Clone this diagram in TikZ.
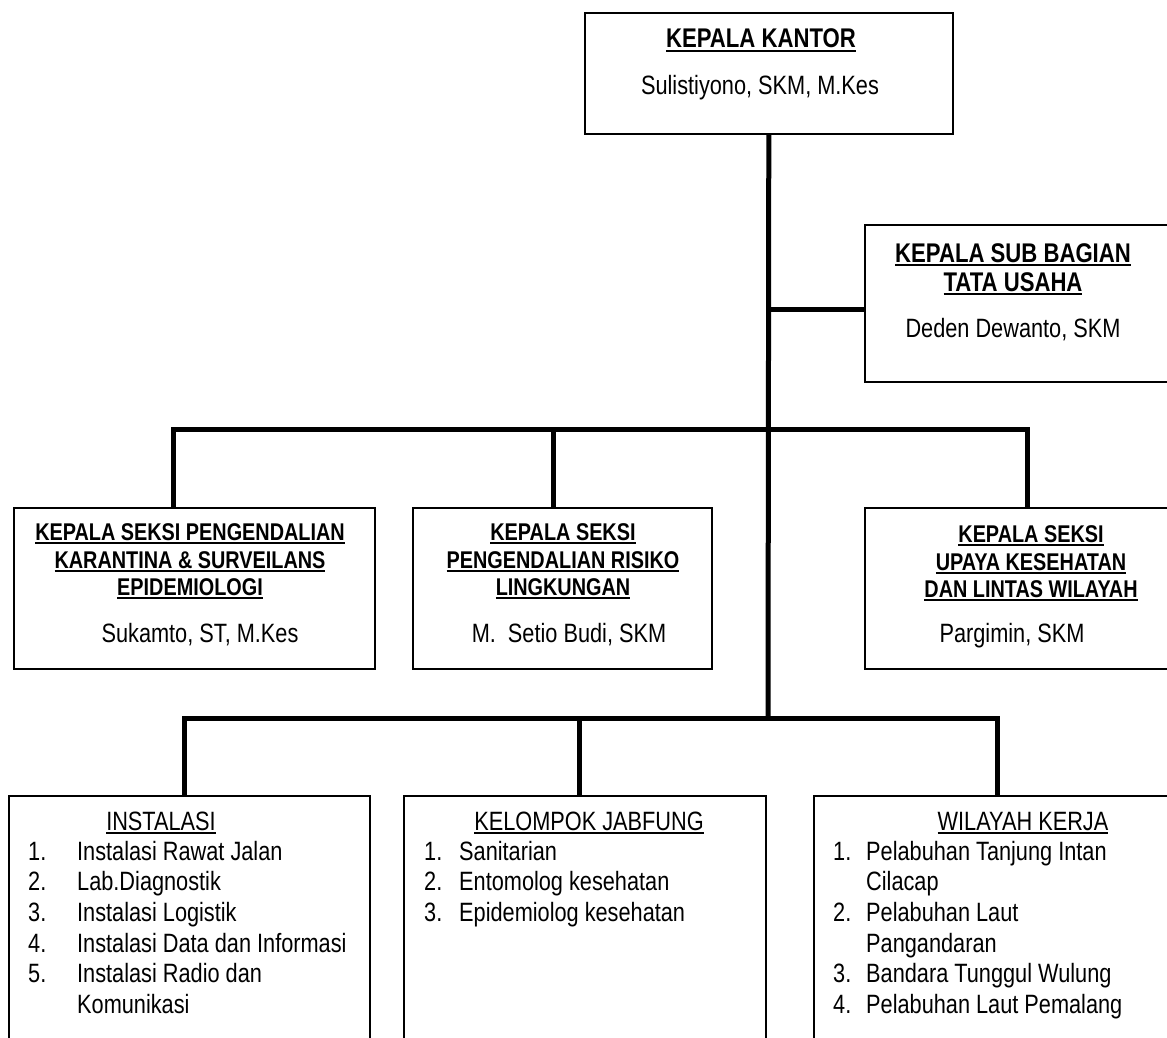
\documentclass[tikz,border=0pt]{standalone}
\usepackage{fontspec}
\setmainfont[FakeStretch=0.82]{Liberation Sans}
\newcommand\myul[1]{\setbox0\hbox{#1}\rlap{\rule[-4.2pt]{\wd0}{1.8pt}}\box0}
\begin{document}
\begin{tikzpicture}[x=1pt,y=-1pt,
  box/.style={draw=black, line width=1.6pt, inner sep=0, anchor=north west},
  conn/.style={line width=5pt, line join=miter},
  txt/.style={inner sep=0, anchor=base, font=\fontsize{26.5}{30.7}\selectfont},
  hd/.style={txt, font=\fontsize{27}{30.7}\selectfont\bfseries},
  hds/.style={txt, font=\fontsize{24.2}{28}\selectfont\bfseries},
  lst/.style={txt, anchor=base west}]
\useasboundingbox (0,0) rectangle (1167,1038);
\clip (0,0) rectangle (1167,1038);
\fill[white] (0,0) rectangle (1167,1038);

% boxes
\node[box, minimum width=368pt, minimum height=121pt] (K) at (584,12) {};
\node[box, minimum width=310pt, minimum height=157pt] (S) at (864,224) {};
\node[box, minimum width=361pt, minimum height=161pt] (A1) at (13,507) {};
\node[box, minimum width=299pt, minimum height=161pt] (A2) at (412,507) {};
\node[box, minimum width=310pt, minimum height=161pt] (A3) at (864,507) {};
\node[box, minimum width=361pt, minimum height=260pt] (B1) at (8,795) {};
\node[box, minimum width=362pt, minimum height=260pt] (B2) at (403,795) {};
\node[box, minimum width=360pt, minimum height=260pt] (B3) at (813,795) {};

% junction coordinates
\coordinate (jS) at (768,309);
\coordinate (m1) at (173,429);
\coordinate (m2) at (553,429);
\coordinate (m3) at (1027,429);
\coordinate (b1) at (184,718);
\coordinate (b2) at (579,718);
\coordinate (b3) at (997,718);
\coordinate (bm) at (768,718);

% connectors
\draw[conn] (K.south) -- (bm);
\draw[conn] (jS) -- (jS -| S.west);
\draw[conn] (m1 |- A1.north) -- (m1) -- (m3) -- (m3 |- A3.north);
\draw[conn] (m2) -- (m2 |- A2.north);
\draw[conn] (b1 |- B1.north) -- (b1) -- (b3) -- (b3 |- B3.north);
\draw[conn] (b2) -- (b2 |- B2.north);

% top box text
\node[hd] (Kh) at (761,48) {\myul{KEPALA KANTOR}};
\node[txt] (Kn) at (760,95) {Sulistiyono, SKM, M.Kes};

% sub box text
\node[hd] (Sh1) at (1013,262) {\myul{KEPALA SUB BAGIAN}};
\node[hd] (Sh2) at (1013,291) {\myul{TATA USAHA}};
\node[txt] (Sn) at (1013,337) {Deden Dewanto, SKM};

% seksi texts
\node[hds] (A1h1) at (190,540) {\myul{KEPALA SEKSI PENGENDALIAN}};
\node[hds] (A1h2) at (190,568) {\myul{KARANTINA \& SURVEILANS}};
\node[hds] (A1h3) at (190,595) {\myul{EPIDEMIOLOGI}};
\node[txt] (A1n) at (200,642) {Sukamto, ST, M.Kes};

\node[hds] (A2h1) at (563,540) {\myul{KEPALA SEKSI}};
\node[hds] (A2h2) at (563,568) {\myul{PENGENDALIAN RISIKO}};
\node[hds] (A2h3) at (563,595) {\myul{LINGKUNGAN}};
\node[txt] (A2n) at (569,642) {M.\ \ Setio Budi, SKM};

\node[hds] (A3h1) at (1031,542) {\myul{KEPALA SEKSI}};
\node[hds] (A3h2) at (1031,570) {\myul{UPAYA KESEHATAN}};
\node[hds] (A3h3) at (1031,597) {\myul{DAN LINTAS WILAYAH}};
\node[txt] (A3n) at (1012,642) {Pargimin, SKM};

% bottom boxes
\node[txt] (B1h) at (161,830) {\myul{INSTALASI}};
\foreach \num/\itm [count=\i from 0] in {1./Instalasi Rawat Jalan, 2./Lab.Diagnostik, 3./Instalasi Logistik, 4./Instalasi Data dan Informasi, 5./Instalasi Radio dan, {}/Komunikasi} {
  \node[lst] (B1n\i) at (28,860+30.7*\i) {\num};
  \node[lst] (B1t\i) at (77,860+30.7*\i) {\itm};
}

\node[txt] (B2h) at (589,830) {\myul{KELOMPOK JABFUNG}};
\foreach \num/\itm [count=\i from 0] in {1./Sanitarian, 2./Entomolog kesehatan, 3./Epidemiolog kesehatan} {
  \node[lst] (B2n\i) at (424,860+30.7*\i) {\num};
  \node[lst] (B2t\i) at (459,860+30.7*\i) {\itm};
}

\node[txt] (B3h) at (1023,830) {\myul{WILAYAH KERJA}};
\foreach \num/\itm [count=\i from 0] in {1./Pelabuhan Tanjung Intan, {}/Cilacap, 2./Pelabuhan Laut, {}/Pangandaran, 3./Bandara Tunggul Wulung, 4./Pelabuhan Laut Pemalang} {
  \node[lst] (B3n\i) at (833,860+30.7*\i) {\num};
  \node[lst] (B3t\i) at (866,860+30.7*\i) {\itm};
}
\end{tikzpicture}
\end{document}
